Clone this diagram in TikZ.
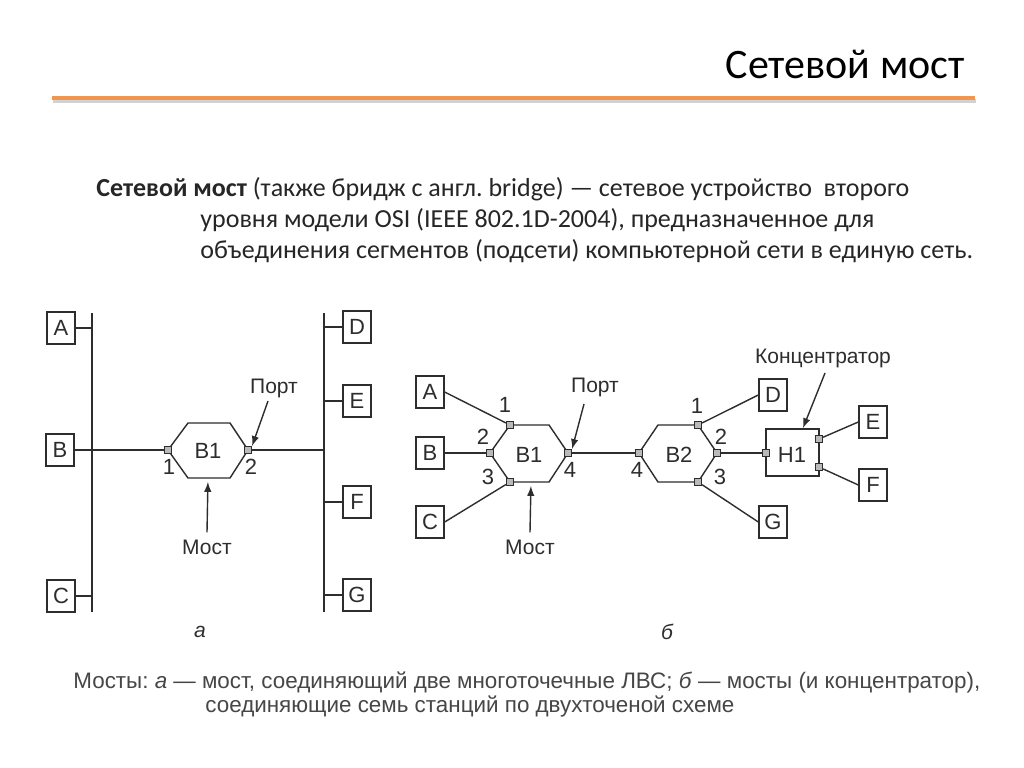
\documentclass[tikz,border=0pt]{standalone}
\usepackage{fontspec}
\setmainfont{Carlito}
\newfontfamily\diagfont{Liberation Sans}
\usetikzlibrary{arrows}
\definecolor{accent}{RGB}{240,150,80}
\definecolor{ink}{RGB}{45,45,45}
\definecolor{captext}{RGB}{70,70,70}
\frenchspacing

\begin{document}
\begin{tikzpicture}[x=0.5pt,y=-0.5pt,
  station/.style={draw=ink,line width=0.7pt,minimum width=14pt,minimum height=16pt,inner sep=0pt,font=\diagfont\fontsize{11}{13}\selectfont,text=ink},
  port/.style={draw=ink,fill=gray!55,line width=0.4pt,minimum size=3.7pt,inner sep=0pt},
  lbl/.style={font=\diagfont\fontsize{10.5}{12}\selectfont,text=ink,inner sep=0pt},
  num/.style={font=\diagfont\fontsize{11}{13}\selectfont,text=ink,inner sep=0pt},
  wire/.style={line width=0.7pt,draw=ink},
  bodytext/.style={anchor=base west,inner sep=0pt,font=\fontsize{13}{16}\selectfont,text=black!85}]
\useasboundingbox[fill=white] (0,0) rectangle (1024,767);
% title and rule
\node[anchor=base east,inner sep=0pt,font=\fontsize{21}{24}\selectfont] (title) at (965,78) {Сетевой мост};
\draw[gray!35,line width=2pt] (53,100.5) -- (976,100.5);
\draw[accent,line width=2pt] (52,98) -- (975,98);
% definition text
\node[bodytext] (def1) at (96,196) {\textbf{Сетевой мост} (также бридж с англ. bridge) — сетевое устройство\ \ второго};
\node[bodytext] (def2) at (200,227) {уровня модели OSI (IEEE 802.1D-2004), предназначенное для};
\node[bodytext] (def3) at (200,258) {объединения сегментов (подсети) компьютерной сети в единую сеть.};

% ---- picture a ----
% buses
\coordinate (busLt) at (92,313);
\coordinate (busLb) at (92,612);
\coordinate (busRt) at (324,313);
\coordinate (busRb) at (324,612);
\draw[wire] (busLt) -- (busLb);
\draw[wire] (busRt) -- (busRb);
% stations
\node[station] (aA) at (61,328) {A};
\node[station] (aB) at (60,450) {B};
\node[station] (aC) at (61,596) {C};
\node[station] (aD) at (357,327) {D};
\node[station] (aE) at (357,401) {E};
\node[station] (aF) at (357,502) {F};
\node[station] (aG) at (357,595) {G};
\foreach \s in {aA,aB,aC} \draw[wire] (\s.east) -- (\s.east -| busLt);
\foreach \s in {aD,aE,aF,aG} \draw[wire] (\s.west) -- (\s.west -| busRt);
% bridge B1
\draw[wire] (168,450) -- (188,423) -- (230,423) -- (248,450) -- (230,478) -- (188,478) -- cycle;
\coordinate (aHexS) at (208,478);
\node[port] (a1) at (168,450) {};
\node[port] (a2) at (248,450) {};
\draw[wire] (aB.east) -- (a1.west);
\draw[wire] (a2.east) -- (a2.east -| busRt);
\node[num] at (169,467) {1};
\node[num] at (251,467) {2};
\node[num] (aB1) at (208,451) {B1};
% port and bridge pointers
\node[lbl] (aPort) at (274,388) {Порт};
\draw[wire,-latex] (268,401) -- (a2.north east);
\node[lbl] (aMost) at (207,547) {Мост};
\draw[wire,-latex,shorten >=2pt] (aMost.north) ++(0,-7) -- (aHexS);
\node[lbl,font=\diagfont\itshape\fontsize{10.5}{12}\selectfont] (capA) at (200,632) {а};

% ---- picture b ----
% stations
\node[station] (bA) at (430,392) {A};
\node[station] (bB) at (430,453) {B};
\node[station] (bC) at (430,522) {C};
\node[station] (bD) at (773,395) {D};
\node[station] (bE) at (873,422) {E};
\node[station] (bF) at (873,485) {F};
\node[station] (bG) at (773,522) {G};
% bridges and hub
\draw[wire] (490,453) -- (510,425) -- (549,425) -- (568,453) -- (549,482) -- (510,482) -- cycle;
\draw[wire] (639,453) -- (658,425) -- (698,425) -- (717,453) -- (698,482) -- (658,482) -- cycle;
\draw[wire] (766,429) rectangle (819,476);
\coordinate (bHexS) at (531,482);
\node[port] (b11) at (510,425) {};
\node[port] (b12) at (490,453) {};
\node[port] (b13) at (510,482) {};
\node[port] (b14) at (568,453) {};
\node[port] (b24) at (639,453) {};
\node[port] (b21) at (698,425) {};
\node[port] (b22) at (717,453) {};
\node[port] (b23) at (698,482) {};
\node[port] (h1) at (766,453) {};
\node[port] (h2) at (819,439) {};
\node[port] (h3) at (819,467) {};
% links
\draw[wire] (bA.east) -- (b11);
\draw[wire] (bB.east) -- (b12);
\draw[wire] (bC.east) -- (b13);
\draw[wire] (b14) -- (b24);
\draw[wire] (b21) -- (bD.west);
\draw[wire] (b22) -- (h1);
\draw[wire] (b23) -- (bG.west);
\draw[wire] (h2) -- (bE.west);
\draw[wire] (h3) -- (bF.west);
% port numbers
\node[num] at (505,405) {1};
\node[num] at (483,437) {2};
\node[num] at (488,477) {3};
\node[num] at (570,470) {4};
\node[num] at (637,470) {4};
\node[num] at (697,406) {1};
\node[num] at (721,437) {2};
\node[num] at (720,477) {3};
\node[num] (bB1) at (529,455) {B1};
\node[num] (bB2) at (679,455) {B2};
\node[num] (bH1) at (792,455) {H1};
% pointers
\node[lbl] (bPort) at (595,387) {Порт};
\draw[wire,-latex] (584,404) -- (b14.north east);
\node[lbl] (bMost) at (530,547) {Мост};
\draw[wire,-latex,shorten >=2pt] (bMost.north) ++(0,-7) -- (bHexS);
\node[lbl] (bHub) at (823,358) {Концентратор};
\draw[wire,-latex] (825,373) -- (803,428);
\node[lbl,font=\diagfont\itshape\fontsize{10.5}{12}\selectfont] (capB) at (667,632) {б};

% caption
\node[anchor=base west,inner sep=0pt,text=captext,font=\diagfont\fontsize{11.2}{13}\selectfont] (cap1) at (73,688) {Мосты: \textit{а} — мост, соединяющий две многоточечные ЛВС; \textit{б} — мосты (и концентратор),};
\node[anchor=base west,inner sep=0pt,text=captext,font=\diagfont\fontsize{11.2}{13}\selectfont] (cap2) at (205,712) {соединяющие семь станций по двухточеной схеме};
\end{tikzpicture}
\end{document}
